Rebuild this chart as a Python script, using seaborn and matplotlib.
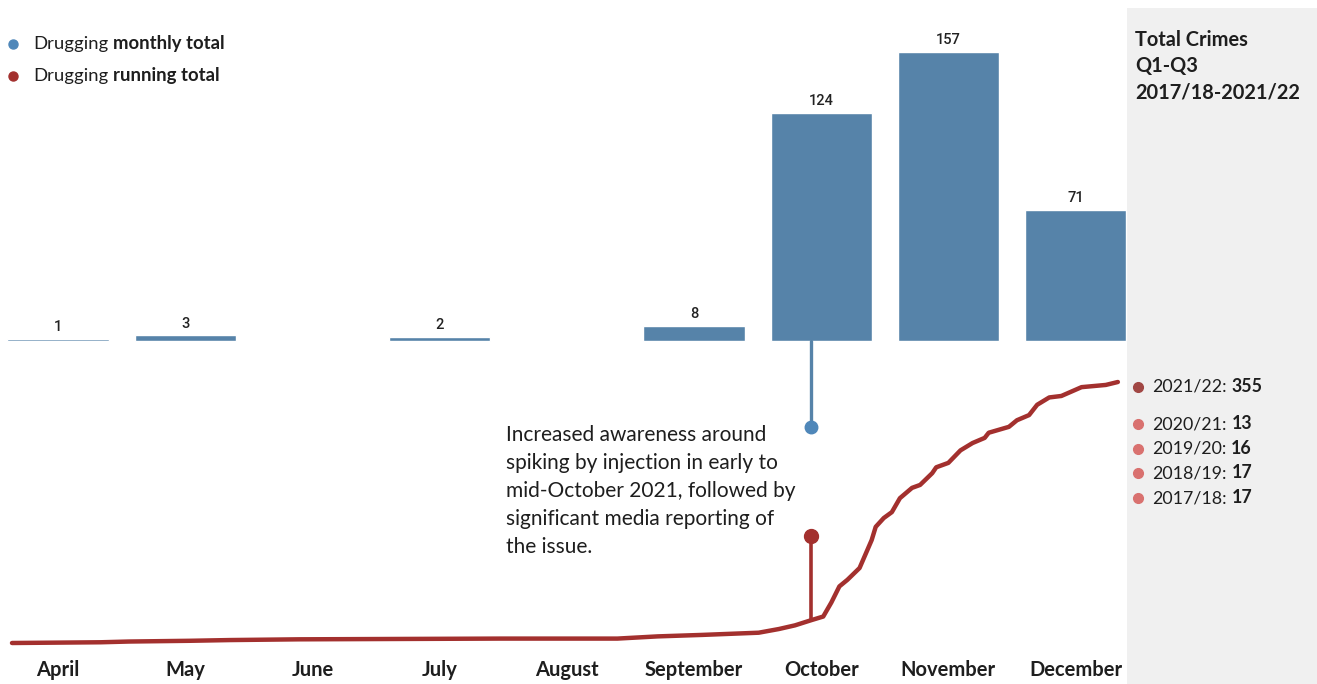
import matplotlib
matplotlib.use("Agg")
import matplotlib.pyplot as plt
import seaborn as sns
from matplotlib.patches import Rectangle
from matplotlib.transforms import blended_transform_factory

# ---- data -------------------------------------------------------------
months = ["April", "May", "June", "July", "August",
          "September", "October", "November", "December"]
monthly_total = [1, 3, 0, 2, 0, 8, 124, 157, 71]

# running total of drugging crimes, days counted from 1 April 2021
running_day = [0, 22, 29, 44, 54, 71, 121, 150, 160, 171, 185, 190, 194,
               198, 201, 203, 205, 207, 210, 213, 214, 216, 218, 220, 223,
               225, 228, 229, 232, 235, 238, 241, 242, 247, 249, 252, 254,
               257, 260, 265, 269, 271, 274]
running_total = [0, 1, 2, 3, 4, 5, 6, 6, 9, 11, 14, 19, 24,
                 31, 36, 55, 77, 86, 102, 140, 158, 170, 178, 197, 211,
                 215, 231, 239, 245, 262, 272, 279, 286, 294, 303, 310, 324,
                 334, 336, 348, 350, 351, 355]

event_day = 198          # mid-October 2021
event_top = 146          # height of the marker stem on the running-total scale
event_drop = 47          # length of the stem below the monthly bars

years = ["2021/22", "2020/21", "2019/20", "2018/19", "2017/18"]
year_totals = [355, 13, 16, 17, 17]

legend_plain = ["Drugging", "Drugging"]
legend_bold = ["monthly total", "running total"]
panel_title = ["Total Crimes", "Q1-Q3", "2017/18-2021/22"]
note = ("Increased awareness around\nspiking by injection in early to\n"
        "mid-October 2021, followed by\nsignificant media reporting of\n"
        "the issue.")

# ---- style ------------------------------------------------------------
BLUE = "#5683A9"
BLUE_DOT = "#4F87B9"
RED = "#A3302E"
RED_DARK = "#A14744"
RED_LIGHT = "#D9716F"
PANEL = "#F0F0F0"
INK = "#1E1E1E"

sns.set_theme(style="white")
plt.rcParams["font.family"] = ["Lato", "DejaVu Sans"]

W, H = 1317, 684
fig = plt.figure(figsize=(W / 100, H / 100), dpi=100)


def fx(px):
    return px / W


def fy(py):
    return 1 - py / H


# two overlaid axes: monthly bars on top, running total below
ax_bar = fig.add_axes([0, 0, 1, 1])
ax_line = fig.add_axes([0, 0, 1, 1])
for ax in (ax_bar, ax_line):
    ax.patch.set_visible(False)

# side panel
ax_bar.add_patch(Rectangle((fx(1127), 0), fx(1317) - fx(1127), fy(8),
                           transform=fig.transFigure, facecolor=PANEL,
                           edgecolor="none", zorder=0))

# monthly bars
sns.barplot(x=months, y=monthly_total, order=months, color=BLUE,
            saturation=1, width=0.795, ax=ax_bar, zorder=2)
ax_bar.set_xlim(-58 / 127.2, (W - 58) / 127.2)
ax_bar.set_ylim((341 - H) / 1.84, 341 / 1.84)
for i, v in enumerate(monthly_total):
    if v > 0:
        ax_bar.annotate(str(v), (i, v), xytext=(0, 3.5),
                        textcoords="offset points", ha="center", va="bottom",
                        fontsize=10.5, family="Roboto", fontweight="medium",
                        color="#222222")

# running total line
sns.lineplot(x=running_day, y=running_total, ax=ax_line, color=RED,
             linewidth=3.2, solid_capstyle="round", solid_joinstyle="round",
             zorder=3)
ax_line.set_xlim(-12 / 4.036, (W - 12) / 4.036)
ax_line.set_ylim(-(H - 643) / 0.7352, 643 / 0.7352)

# event markers
bar_x = blended_transform_factory(ax_line.transData, ax_bar.transData)
ax_bar.plot([event_day, event_day], [0, -event_drop], color=BLUE, lw=2.4,
            transform=bar_x, zorder=3)
ax_bar.plot([event_day], [-event_drop], "o", color=BLUE_DOT, ms=9,
            transform=bar_x, zorder=3)
base_val = running_total[running_day.index(event_day)]
ax_line.plot([event_day, event_day], [base_val, event_top], color=RED,
             lw=2.6, zorder=3)
ax_line.plot([event_day], [event_top], "o", color=RED, ms=10, zorder=4)

for ax in (ax_bar, ax_line):
    ax.axis("off")

# month labels
month_tr = blended_transform_factory(ax_bar.transData, fig.transFigure)
for i, m in enumerate(months):
    ax_bar.text(i, fy(670), m, transform=month_tr, ha="center", va="center",
                fontsize=14.5, fontweight="bold", color=INK)

# legend
for k, (plain, bold, col) in enumerate(zip(legend_plain, legend_bold,
                                            [BLUE_DOT, RED])):
    yy = fy(44 + 32 * k)
    fig.lines.append(plt.Line2D([fx(13)], [yy], marker="o", ms=6.5,
                                color=col, lw=0, transform=fig.transFigure))
    t = fig.text(fx(33), yy, plain, ha="left", va="center", fontsize=13.3,
                 color=INK)
    ax_bar.annotate(bold, xy=(1, 0), xycoords=t, xytext=(3.5, 0),
                    textcoords="offset points", ha="left", va="bottom",
                    fontsize=13.3, fontweight="bold", color=INK)

# panel title
fig.text(fx(1135), fy(30), "\n".join(panel_title), ha="left", va="top",
         fontsize=14.4, fontweight="bold", color=INK, linespacing=1.4)

# panel totals
for k, (yr, tot) in enumerate(zip(years, year_totals)):
    py = 387 if k == 0 else 424 + 24.7 * (k - 1)
    col = RED_DARK if k == 0 else RED_LIGHT
    fig.lines.append(plt.Line2D([fx(1138)], [fy(py)], marker="o", ms=7,
                                color=col, lw=0, transform=fig.transFigure))
    t = fig.text(fx(1152), fy(py), f"{yr}:", ha="left", va="center",
                 fontsize=12.8, color=INK)
    ax_bar.annotate(str(tot), xy=(1, 0), xycoords=t, xytext=(3.5, 0),
                    textcoords="offset points", ha="left", va="bottom",
                    fontsize=12.8, fontweight="bold", color=INK)

# annotation text
fig.text(fx(506), fy(425), note, ha="left", va="top", fontsize=15,
         color=INK, linespacing=1.5)

fig.savefig("out.png", dpi=100)
